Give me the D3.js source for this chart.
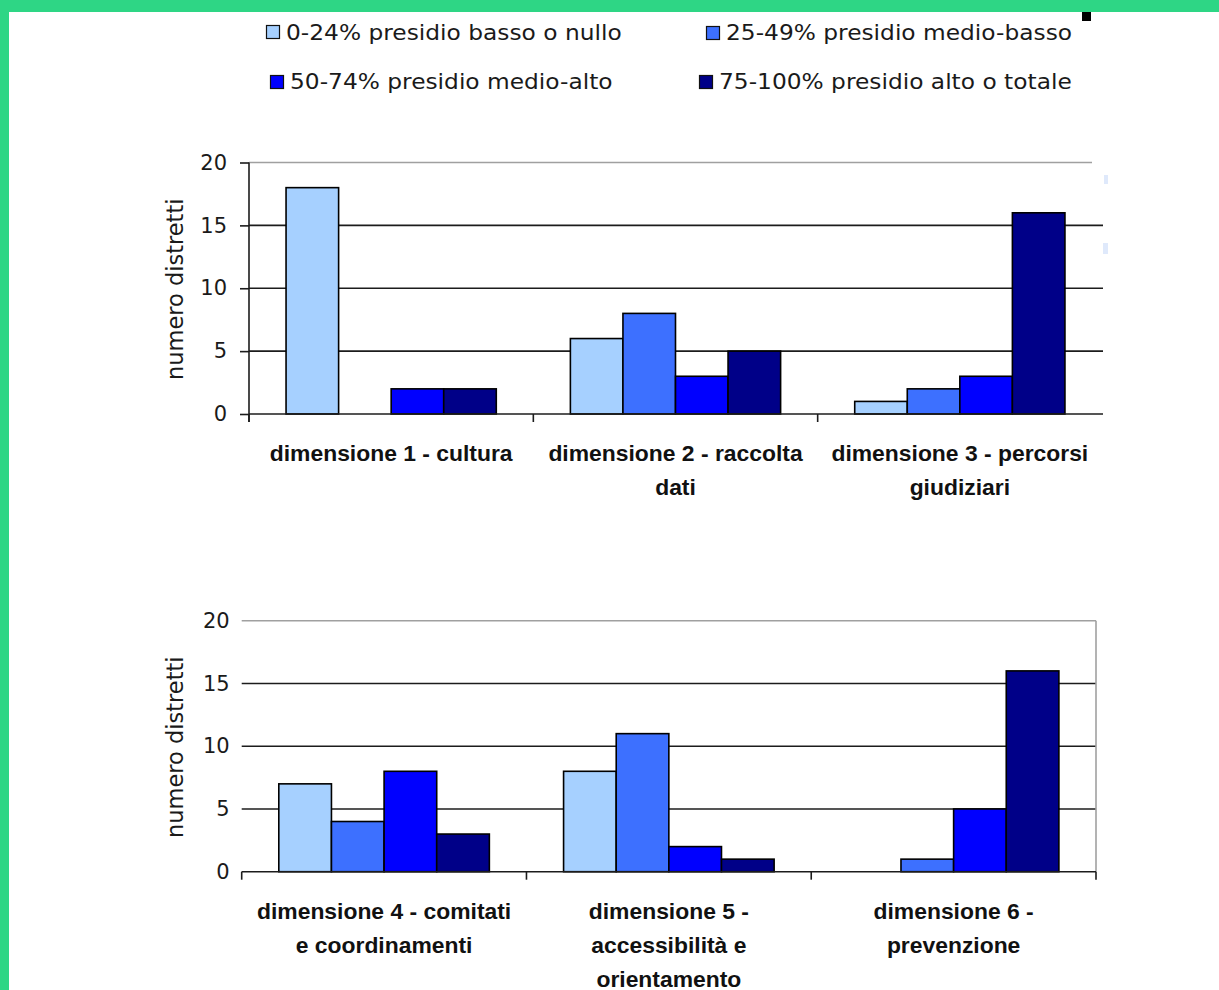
<!DOCTYPE html>
<html>
<head>
<meta charset="utf-8">
<script src="https://cdn.jsdelivr.net/npm/d3@7"></script>
<style>
  html, body { margin: 0; padding: 0; background: #ffffff; }
  svg { display: block; }
</style>
</head>
<body>
<svg id="chart" width="1219" height="990"></svg>
<script>
// Livelli di presidio (serie)
const series = [
  "0-24% presidio basso o nullo",
  "25-49% presidio medio-basso",
  "50-74% presidio medio-alto",
  "75-100% presidio alto o totale"
];
const seriesColors = ["#a6d0ff", "#3d70ff", "#0000ff", "#000088"];

// Dimensioni, grafico superiore (etichette su più righe)
const categoriesTop = [
  ["dimensione 1 - cultura"],
  ["dimensione 2 - raccolta", "dati"],
  ["dimensione 3 - percorsi", "giudiziari"]
];
// Numero di distretti per dimensione e livello
const valuesTop = [
  [18, 0, 2, 2],
  [6, 8, 3, 5],
  [1, 2, 3, 16]
];

// Dimensioni, grafico inferiore
const categoriesBottom = [
  ["dimensione 4 - comitati", "e coordinamenti"],
  ["dimensione 5 -", "accessibilità e", "orientamento"],
  ["dimensione 6 -", "prevenzione"]
];
const valuesBottom = [
  [7, 4, 8, 3],
  [8, 11, 2, 1],
  [0, 1, 5, 16]
];

const yTicks = [0, 5, 10, 15, 20];
const yTitle = "numero distretti";

const svg = d3.select("#chart");
const FONT = "'DejaVu Sans', 'Liberation Sans', sans-serif";
const DARK = "#1c1c1c";
const GREY = "#a0a0a0";

// cornice verde
svg.append("rect").attr("x", 0).attr("y", 0).attr("width", 1219).attr("height", 12).attr("fill", "#2ed685");
svg.append("rect").attr("x", 0).attr("y", 0).attr("width", 9).attr("height", 990).attr("fill", "#2ed685");
svg.append("rect").attr("x", 1082).attr("y", 12).attr("width", 9).attr("height", 9).attr("fill", "#000");
svg.append("rect").attr("x", 1104).attr("y", 175).attr("width", 4).attr("height", 9).attr("fill", "#dfe9fb");
svg.append("rect").attr("x", 1103).attr("y", 243).attr("width", 5).attr("height", 11).attr("fill", "#dfe9fb");

// Legenda
const legendPos = [
  { sx: 266, sy: 25, tx: 286, ty: 40 },
  { sx: 706, sy: 26, tx: 726, ty: 40 },
  { sx: 270, sy: 75, tx: 290, ty: 89 },
  { sx: 699, sy: 75, tx: 719, ty: 89 }
];
const legend = svg.append("g").attr("class", "legend");
series.forEach((s, i) => {
  const p = legendPos[i];
  legend.append("rect")
    .attr("x", p.sx + 0.5).attr("y", p.sy + 0.5)
    .attr("width", 13).attr("height", 13)
    .attr("fill", seriesColors[i]).attr("stroke", "#111").attr("stroke-width", 1.2);
  legend.append("text")
    .attr("transform", `translate(${p.tx},${p.ty}) scale(1.06,1)`)
    .attr("font-family", FONT).attr("font-size", 22)
    .attr("fill", "#1a1a1a")
    .text(s);
});

function drawChart(cfg) {
  const { categories, values, x0, x1, yZero, yTop, leftTicks, gridEnd, topEnd, box, endTick, titleX } = cfg;
  const g = svg.append("g");
  const keys = categories.map((c, i) => "c" + i);

  const x = d3.scaleBand().domain(keys).range([x0, x1]).paddingInner(0).paddingOuter(0);
  const xs = d3.scaleBand().domain(series).range([0, x.bandwidth()]).paddingInner(0).paddingOuter(0.705);
  const y = d3.scaleLinear().domain([0, 20]).range([yZero, yTop]);

  // griglia
  g.selectAll("line.grid")
    .data(yTicks.filter(t => t > 0 && t < 20))
    .join("line")
    .attr("x1", x0).attr("x2", gridEnd)
    .attr("y1", d => y(d)).attr("y2", d => y(d))
    .attr("stroke", DARK).attr("stroke-width", 1.6);
  g.append("line")
    .attr("x1", x0).attr("x2", topEnd)
    .attr("y1", y(20)).attr("y2", y(20))
    .attr("stroke", GREY).attr("stroke-width", 1.6);
  if (box) {
    g.append("line")
      .attr("x1", x1).attr("x2", x1)
      .attr("y1", y(20)).attr("y2", y(0))
      .attr("stroke", GREY).attr("stroke-width", 1.6);
  }

  // barre
  categories.forEach((c, ci) => {
    g.selectAll(null)
      .data(values[ci].map((v, si) => ({ v, s: series[si], color: seriesColors[si] })).filter(d => d.v > 0))
      .join("rect")
      .attr("x", d => x(keys[ci]) + xs(d.s))
      .attr("y", d => y(d.v))
      .attr("width", xs.bandwidth())
      .attr("height", d => y(0) - y(d.v))
      .attr("fill", d => d.color)
      .attr("stroke", "#000").attr("stroke-width", 1.6);
  });

  // asse delle categorie
  g.append("line")
    .attr("x1", x0).attr("x2", gridEnd)
    .attr("y1", y(0)).attr("y2", y(0))
    .attr("stroke", DARK).attr("stroke-width", 1.6);
  const bounds = keys.map(k => x(k));
  if (endTick) bounds.push(x1);
  g.selectAll("line.ctick")
    .data(bounds)
    .join("line")
    .attr("x1", d => d).attr("x2", d => d)
    .attr("y1", y(0)).attr("y2", y(0) + 8)
    .attr("stroke", DARK).attr("stroke-width", 1.6);

  // asse dei valori
  const yAxis = d3.axisLeft(y).tickValues(yTicks)
    .tickSize(leftTicks ? 9 : 0)
    .tickPadding(leftTicks ? 13 : 12);
  const ya = g.append("g").attr("transform", `translate(${x0},0)`).call(yAxis);
  ya.select(".domain").remove();
  ya.selectAll("line").attr("stroke", DARK).attr("stroke-width", 1.6);
  ya.selectAll("text")
    .attr("font-family", FONT).attr("font-size", 21).attr("fill", "#1a1a1a");
  if (leftTicks) {
    g.append("line")
      .attr("x1", x0).attr("x2", x0)
      .attr("y1", y(20)).attr("y2", y(0) + 8)
      .attr("stroke", DARK).attr("stroke-width", 1.6);
  }

  // titolo asse Y
  g.append("text")
    .attr("transform", `translate(${titleX},${(y(0) + y(20)) / 2 + 1}) rotate(-90)`)
    .attr("text-anchor", "middle")
    .attr("font-family", FONT).attr("font-size", 22.5)
    .attr("fill", "#1a1a1a")
    .text(yTitle);

  // etichette delle categorie
  categories.forEach((lines, ci) => {
    const cx = x(keys[ci]) + x.bandwidth() / 2;
    lines.forEach((ln, li) => {
      g.append("text")
        .attr("transform", `translate(${cx},${y(0) + 47 + li * 34}) scale(1.04,1)`)
        .attr("text-anchor", "middle")
        .attr("font-family", "'Liberation Sans', Arial, sans-serif")
        .attr("font-weight", "bold")
        .attr("font-size", 22)
        .attr("fill", "#111")
        .text(ln);
    });
  });
}

drawChart({
  categories: categoriesTop, values: valuesTop,
  x0: 249, x1: 1102, yZero: 414, yTop: 162.5,
  leftTicks: true, gridEnd: 1103, topEnd: 1092, box: false, endTick: false, titleX: 183
});

drawChart({
  categories: categoriesBottom, values: valuesBottom,
  x0: 241.7, x1: 1096, yZero: 871.7, yTop: 620.7,
  leftTicks: false, gridEnd: 1096, topEnd: 1096, box: true, endTick: true, titleX: 183
});
</script>
</body>
</html>
